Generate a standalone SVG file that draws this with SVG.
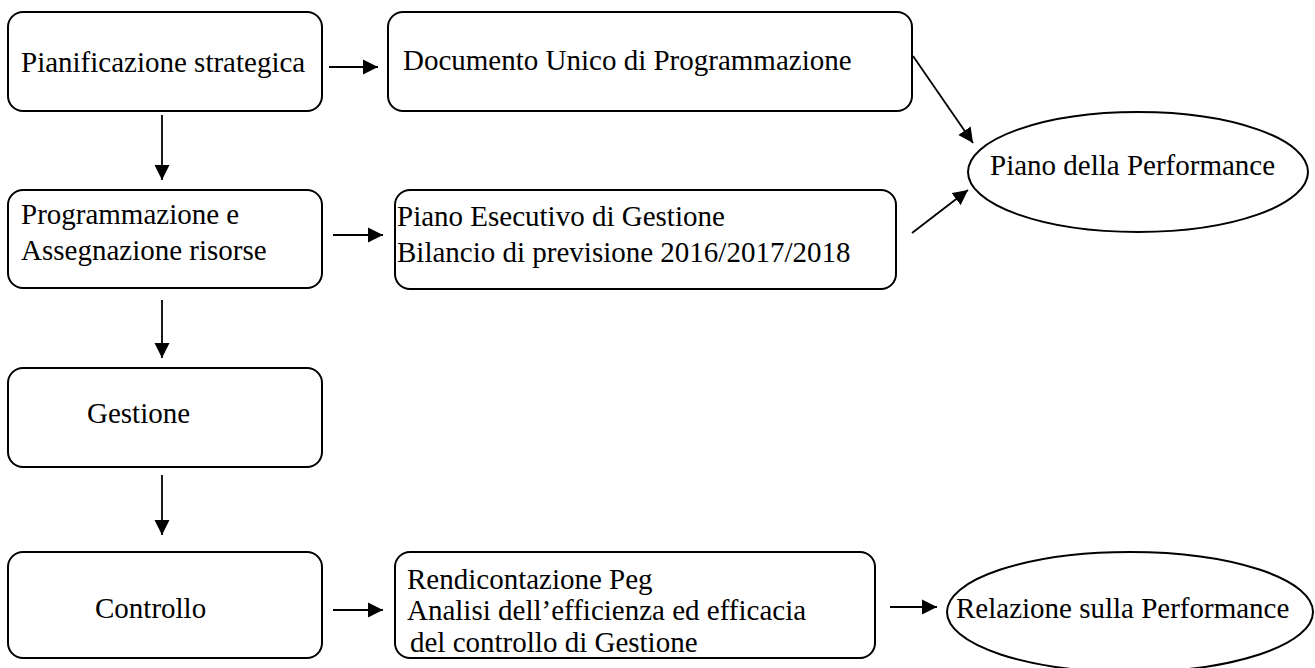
<svg xmlns="http://www.w3.org/2000/svg" width="1315" height="668" viewBox="0 0 1315 668">
<style>
.box{fill:#fff;stroke:#000;stroke-width:2}
.t{font-family:'Liberation Serif', serif;font-size:29px;fill:#000}
.c{stroke:#000;stroke-width:1.8;fill:none}
</style>
<defs>
<marker id="ah" markerUnits="userSpaceOnUse" markerWidth="16" markerHeight="16" viewBox="0 0 16 16" refX="15" refY="8" orient="auto">
<path d="M0,0.5 L15,8 L0,15.5 Z" fill="#000"/>
</marker>
</defs>
<rect width="1315" height="668" fill="#fff"/>
<g id="connectors">
<line class="c" x1="329" y1="67" x2="378" y2="67" marker-end="url(#ah)"/>
<line class="c" x1="913" y1="56" x2="973" y2="143" marker-end="url(#ah)"/>
<line class="c" x1="912" y1="233" x2="968" y2="190" marker-end="url(#ah)"/>
<line class="c" x1="333" y1="235" x2="383" y2="235" marker-end="url(#ah)"/>
<line class="c" x1="162" y1="115" x2="162" y2="180" marker-end="url(#ah)"/>
<line class="c" x1="162" y1="300" x2="162" y2="358" marker-end="url(#ah)"/>
<line class="c" x1="162" y1="475" x2="162" y2="535" marker-end="url(#ah)"/>
<line class="c" x1="333" y1="610" x2="383" y2="610" marker-end="url(#ah)"/>
<line class="c" x1="890" y1="607" x2="937" y2="607" marker-end="url(#ah)"/>
</g>
<g id="pianificazione">
<rect class="box" x="8" y="12" width="314" height="99" rx="15"/>
<text class="t" x="21" y="72">Pianificazione strategica</text>
</g>
<g id="dup">
<rect class="box" x="388" y="12" width="524" height="99" rx="15"/>
<text class="t" x="403" y="70">Documento Unico di Programmazione</text>
</g>
<g id="piano-performance">
<ellipse class="box" cx="1138" cy="172" rx="170" ry="60"/>
<text class="t" x="990" y="175">Piano della Performance</text>
</g>
<g id="programmazione">
<rect class="box" x="8" y="190" width="314" height="98" rx="15"/>
<text class="t" x="21" y="224">Programmazione e</text>
<text class="t" x="21" y="260">Assegnazione risorse</text>
</g>
<g id="peg">
<rect class="box" x="395" y="190" width="501" height="99" rx="15"/>
<text class="t" x="397" y="226">Piano Esecutivo di Gestione</text>
<text class="t" x="397" y="262">Bilancio di previsione 2016/2017/2018</text>
</g>
<g id="gestione">
<rect class="box" x="8" y="368" width="314" height="99" rx="15"/>
<text class="t" x="87" y="423">Gestione</text>
</g>
<g id="controllo">
<rect class="box" x="8" y="552" width="314" height="106" rx="15"/>
<text class="t" x="95" y="618">Controllo</text>
</g>
<g id="rendicontazione">
<rect class="box" x="395" y="552" width="480" height="106" rx="15"/>
<text class="t" x="407" y="589">Rendicontazione Peg</text>
<text class="t" x="407" y="620">Analisi dell’efficienza ed efficacia</text>
<text class="t" x="410" y="652">del controllo di Gestione</text>
</g>
<g id="relazione">
<ellipse class="box" cx="1130" cy="612" rx="183" ry="60"/>
<text class="t" x="956" y="618">Relazione sulla Performance</text>
</g>
</svg>
